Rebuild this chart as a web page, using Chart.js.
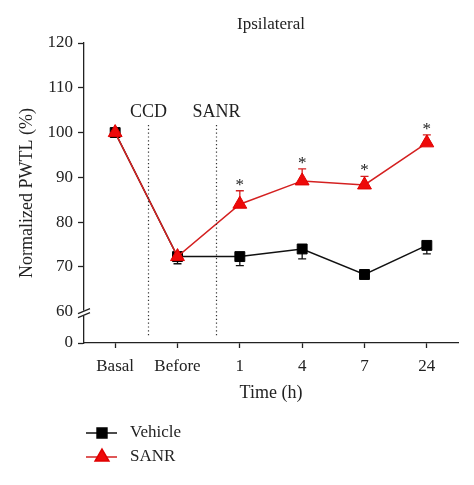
<!DOCTYPE html>
<html>
<head>
<meta charset="utf-8">
<script src="https://cdn.jsdelivr.net/npm/chart.js@4.4.0/dist/chart.umd.min.js"></script>
<style>
html, body { margin: 0; padding: 0; background: #fff; }
#wrap { width: 474px; height: 485px; }
</style>
</head>
<body>
<div id="wrap"><canvas id="mycanvas"></canvas></div>
<script>
// data
var times = ['Basal', 'Before', '1', '4', '7', '24'];
var vehicle = [100, 72.3, 72.3, 74.0, 68.3, 74.8];
var vehicleErr = [0.5, 1.6, 2.0, 2.2, 0.5, 1.9];
var sanr = [100, 72.3, 84.0, 89.2, 88.3, 97.7];
var sanrErr = [0.3, 1.0, 3.0, 2.7, 1.9, 1.8];
var sanrStars = [false, false, true, true, true, true];
var yTicks = [0, 60, 70, 80, 90, 100, 110, 120];
var events = ['CCD', 'SANR'];
var eventAt = [0.52, 1.61];   // in category units, between Basal/Before and Before/1

var axisFloor = 53;   // where the "0" of the broken axis sits
var serif = '"Liberation Serif", "Times New Roman", serif';
var ink = '#222';

Chart.defaults.font.family = serif;
Chart.defaults.font.size = 17;
Chart.defaults.color = ink;

function drawErr(chart, vals, errs, dir, color) {
  var xs = chart.scales.x, ys = chart.scales.y, ctx = chart.ctx;
  ctx.save();
  ctx.strokeStyle = color;
  ctx.lineWidth = 1.3;
  for (var i = 0; i < vals.length; i++) {
    var x = xs.getPixelForValue(i);
    var y0 = ys.getPixelForValue(vals[i]);
    var y1 = ys.getPixelForValue(vals[i] + dir * errs[i]);
    ctx.beginPath();
    ctx.moveTo(x, y0); ctx.lineTo(x, y1);
    ctx.moveTo(x - 4, y1); ctx.lineTo(x + 4, y1);
    ctx.stroke();
  }
  ctx.restore();
}

var extras = {
  id: 'extras',
  beforeDatasetsDraw: function(chart) {
    drawErr(chart, vehicle, vehicleErr, -1, '#111');
    drawErr(chart, sanr, sanrErr, 1, '#d42020');
  },
  afterDraw: function(chart) {
    var ctx = chart.ctx, xs = chart.scales.x, ys = chart.scales.y, area = chart.chartArea;
    ctx.save();

    // title
    ctx.fillStyle = ink;
    ctx.font = '17px ' + serif;
    ctx.textAlign = 'center';
    ctx.textBaseline = 'middle';
    ctx.fillText('Ipsilateral', (area.left + area.right) / 2, 25);

    // axis break
    var bx = area.left, by = ys.getPixelForValue(60);
    ctx.fillStyle = '#fff';
    ctx.fillRect(bx - 2, by - 1, 4, 5);
    ctx.strokeStyle = ink;
    ctx.lineWidth = 1.2;
    ctx.beginPath();
    ctx.moveTo(bx - 6, by + 2); ctx.lineTo(bx + 6, by - 3);
    ctx.moveTo(bx - 6, by + 6); ctx.lineTo(bx + 6, by + 1);
    ctx.stroke();

    // event markers
    var step = xs.getPixelForValue(1) - xs.getPixelForValue(0);
    ctx.font = '18px ' + serif;
    ctx.fillStyle = ink;
    for (var e = 0; e < events.length; e++) {
      var ex = Math.round(xs.getPixelForValue(0) + eventAt[e] * step) + 0.5;
      ctx.fillText(events[e], ex, area.top + 69);
      ctx.save();
      ctx.setLineDash([1.2, 2.6]);
      ctx.strokeStyle = '#333';
      ctx.lineWidth = 1.2;
      ctx.beginPath();
      ctx.moveTo(ex, area.top + 82);
      ctx.lineTo(ex, area.bottom - 6);
      ctx.stroke();
      ctx.restore();
    }

    // significance stars
    ctx.font = '17px ' + serif;
    ctx.textBaseline = 'alphabetic';
    for (var i = 0; i < sanr.length; i++) {
      if (!sanrStars[i]) continue;
      var sx = xs.getPixelForValue(i);
      var sy = ys.getPixelForValue(sanr[i] + sanrErr[i]) - 9;
      ctx.fillText('*', sx, sy + 8);
    }

    // legend
    var order = [0, 1];
    ctx.textAlign = 'left';
    ctx.textBaseline = 'middle';
    for (var k = 0; k < order.length; k++) {
      var ds = chart.data.datasets[order[k]];
      var ly = 433 + k * 24;
      ctx.strokeStyle = ds.borderColor;
      ctx.lineWidth = 1.5;
      ctx.beginPath();
      ctx.moveTo(86, ly); ctx.lineTo(117, ly);
      ctx.stroke();
      ctx.fillStyle = ds.pointBackgroundColor;
      ctx.strokeStyle = ds.pointBorderColor;
      Chart.helpers.drawPoint(ctx, {pointStyle: ds.pointStyle, radius: ds.pointRadius, rotation: 0, borderWidth: 1}, 102, ly);
      ctx.fillStyle = ink;
      ctx.font = '17px ' + serif;
      ctx.fillText(ds.label, 130, ly);
    }
    ctx.restore();
  }
};

var ctx = document.getElementById('mycanvas');

var chart = new Chart(ctx, {
  type: 'line',
  data: {
    labels: times,
    datasets: [
      {
        label: 'Vehicle',
        data: vehicle,
        borderColor: '#111',
        borderWidth: 1.5,
        pointStyle: 'rect',
        pointRadius: 7,
        pointBackgroundColor: '#000',
        pointBorderColor: '#000',
        pointBorderWidth: 1,
        tension: 0,
        order: 1
      },
      {
        label: 'SANR',
        data: sanr,
        borderColor: '#d42020',
        borderWidth: 1.5,
        pointStyle: 'triangle',
        pointRadius: 8,
        pointBackgroundColor: '#ee0a0a',
        pointBorderColor: '#e00000',
        pointBorderWidth: 1,
        tension: 0,
        order: 0
      }
    ]
  },
  plugins: [extras],
  options: {
    responsive: true,
    maintainAspectRatio: false,
    animation: false,
    clip: false,
    layout: { padding: { left: 0, right: 16, top: 43, bottom: 80 } },
    plugins: {
      legend: { display: false },
      title: { display: false },
      tooltip: { enabled: false }
    },
    scales: {
      x: {
        type: 'category',
        offset: true,
        afterFit: function(scale) { scale.height = 62; },
        grid: { drawOnChartArea: false, offset: false, tickLength: 5, tickColor: ink, tickWidth: 1.3 },
        border: { color: ink, width: 1.3 },
        ticks: { padding: 8, color: ink, font: { size: 17 } },
        title: { display: true, text: 'Time (h)', color: ink, font: { size: 18 }, padding: { top: 0, bottom: 1 } }
      },
      y: {
        min: axisFloor,
        max: 120,
        afterFit: function(scale) { scale.width = 84; },
        afterBuildTicks: function(scale) {
          scale.ticks = yTicks.map(function(v) { return { value: v === 0 ? axisFloor : v }; });
        },
        grid: {
          drawOnChartArea: false,
          tickLength: 6,
          tickWidth: 1.3,
          tickColor: function(c) { return c.tick && c.tick.value === 60 ? 'rgba(0,0,0,0)' : ink; }
        },
        border: { color: ink, width: 1.3 },
        ticks: {
          padding: 5,
          color: ink,
          font: { size: 17 },
          callback: function(value) { return value === axisFloor ? '0' : value; }
        },
        title: { display: true, text: 'Normalized PWTL (%)', color: ink, font: { size: 18 }, padding: { top: 16, bottom: 0 } }
      }
    }
  }
});
</script>
</body>
</html>
